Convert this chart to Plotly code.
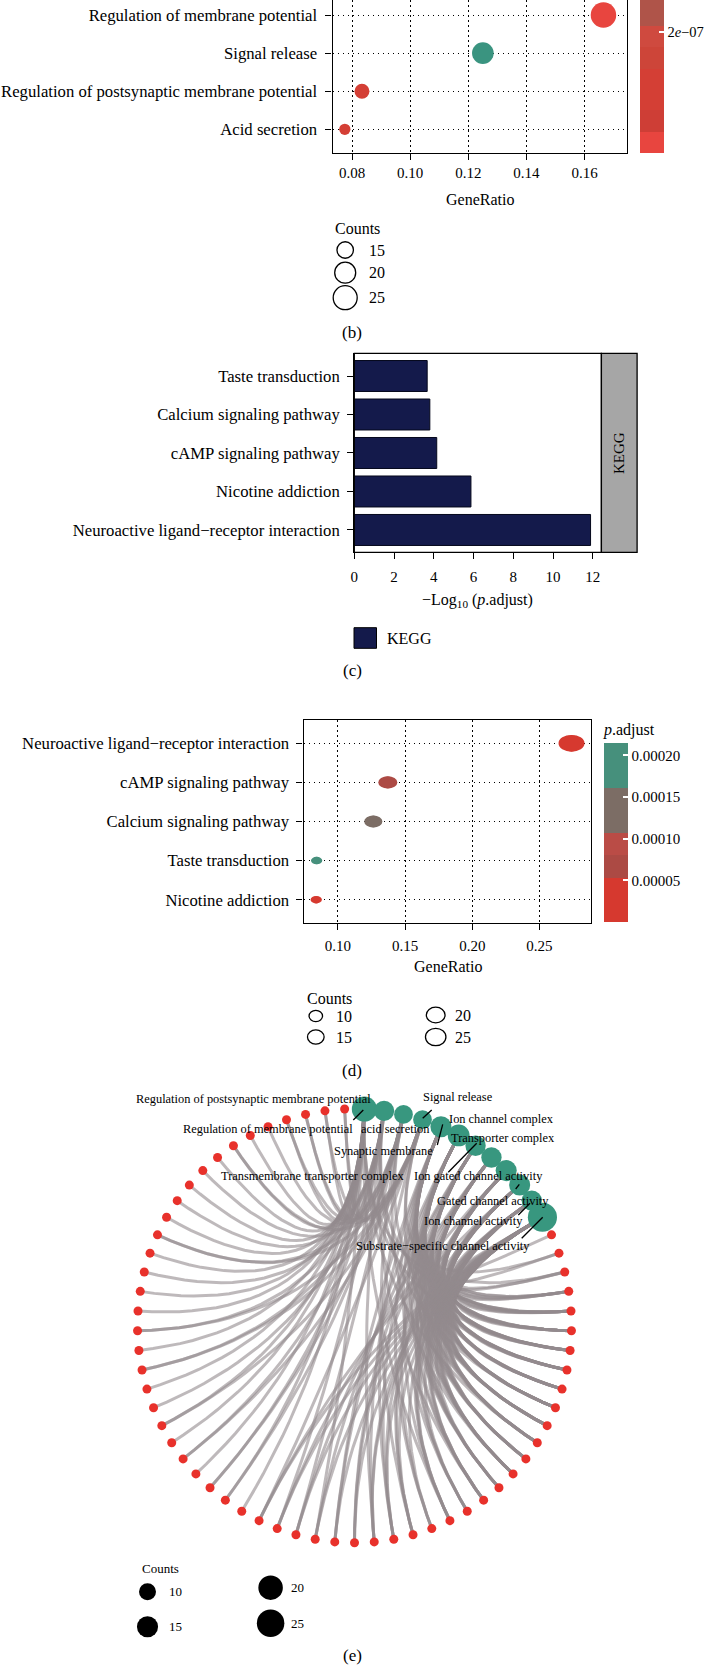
import math
import plotly.graph_objects as go
import plotly.colors as pc

W, H = 709, 1667
SERIF = "Liberation Serif"


def fx(x):
    return x / W


def fy(y):
    return 1 - y / H


# ================= DATA =================
# (b) GO dot plot (lower rows visible)
b_terms = ["Acid secretion", "Regulation of postsynaptic membrane potential",
           "Signal release", "Regulation of membrane potential"]
b_gene_ratio = [0.0775, 0.0834, 0.1250, 0.1665]
b_counts = [13, 14, 21, 28]
b_padjust = [1.0e-7, 1.05e-7, 7.0e-7, 1.0e-12]
b_x_ticks = [0.08, 0.10, 0.12, 0.14, 0.16]
b_size_breaks = [15, 20, 25]
b_cbar_ticks = [2e-7]
b_cbar_ticktext = ["2<i>e</i>\u221207"]

# (c) KEGG bar chart (bottom to top)
kegg_terms = ["Neuroactive ligand\u2212receptor interaction", "Nicotine addiction",
              "cAMP signaling pathway", "Calcium signaling pathway", "Taste transduction"]
kegg_padjust = [1.29e-12, 1.35e-6, 7.1e-5, 1.58e-4, 2.15e-4]
c_x_ticks = [0, 2, 4, 6, 8, 10, 12]

# (d) KEGG dot plot (bottom to top)
d_terms = ["Nicotine addiction", "Taste transduction", "Calcium signaling pathway",
           "cAMP signaling pathway", "Neuroactive ligand\u2212receptor interaction"]
d_gene_ratio = [0.0838, 0.0841, 0.1263, 0.1371, 0.2739]
d_counts = [8, 8, 12, 13, 26]
d_padjust = [1.35e-6, 2.15e-4, 1.58e-4, 7.1e-5, 1.29e-12]
d_x_ticks = [0.10, 0.15, 0.20, 0.25]
d_cbar_ticks = [0.00005, 0.00010, 0.00015, 0.00020]
d_size_breaks = [10, 15, 20, 25]

# (e) gene-concept network: terms in circle order, gene indices per term
e_terms = ["Regulation of postsynaptic membrane potential", "Regulation of membrane potential",
           "acid secretion", "Signal release", "Ion channel complex", "Synaptic membrane",
           "Transporter complex", "Transmembrane transporter complex",
           "Ion gated channel activity", "Gated channel activity", "Ion channel activity",
           "Substrate\u2212specific channel activity"]
e_term_genes = [
    [2, 6, 11, 17, 24, 28, 29, 31, 33, 34, 36, 38, 40, 41, 43, 45, 47, 49, 51, 53, 55],
    [4, 9, 15, 21, 26, 30, 32, 35, 39, 42, 46, 50, 54, 56],
    [7, 13, 19, 25, 29, 30, 37, 44, 48, 52, 54, 56],
    [1, 10, 20, 27, 32, 34, 37, 39, 44, 50, 53, 55],
    [3, 4, 5, 6, 7, 8, 9, 10, 11, 12, 14, 16, 18, 21, 23],
    [3, 4, 5, 6, 7, 8, 9, 10, 11, 12, 13, 14, 15, 17, 20, 23],
    [4, 5, 6, 7, 8, 9, 10, 12, 13, 14, 15, 18, 22, 24],
    [5, 6, 7, 8, 9, 10, 11, 12, 13, 14, 16, 19, 22, 25],
    [3, 4, 5, 6, 7, 8, 9, 10, 11, 12, 13, 14, 16, 19, 26],
    [3, 4, 5, 6, 7, 8, 9, 10, 11, 12, 13, 15, 17, 20, 27],
    [2, 3, 4, 5, 6, 7, 8, 9, 10, 11, 13, 15, 17, 21],
    [0, 1, 2, 3, 4, 5, 6, 7, 8, 9, 10, 11, 12, 13, 14, 15, 16, 17, 18, 19, 20, 21, 22,
     23, 24, 25, 26, 27],
]
e_n_genes = 57
e_size_breaks = [10, 15, 20, 25]

# ================= STYLES =================
RED = "#E8312B"
TEAL = "#38977F"
NAVY = "#141A4B"
DOT = "1.5px,3.5px"
EDGE = "rgba(146,138,141,0.6)"

b_colorscale = [[0, "#E8453F"], [0.05, "#E8453F"], [0.05, "#CE3E36"], [0.101, "#CE3E36"],
                [0.101, "#D43F35"], [0.2, "#D43F35"], [0.2, "#CD4539"], [0.251, "#CD4539"],
                [0.251, "#CF4A3F"], [0.30, "#CF4A3F"], [0.30, "#AF5449"], [0.45, "#AF5449"],
                [0.45, "#8A6A60"], [0.62, "#8A6A60"], [0.62, "#6B7C6D"], [0.8, "#6B7C6D"],
                [0.8, "#3A9480"], [1, "#3A9480"]]
d_colorscale = [[0, "#D6392F"], [0.244, "#D6392F"], [0.244, "#AC4A44"], [0.373, "#AC4A44"],
                [0.373, "#BA4C46"], [0.5, "#BA4C46"], [0.5, "#7C6D65"], [0.748, "#7C6D65"],
                [0.748, "#46907C"], [1, "#46907C"]]


def scale_lookup(scale, t):
    t = min(max(t, 0.0), 1.0)
    for (a, ca), (b, cb) in zip(scale[:-1], scale[1:]):
        if b > a and a <= t <= b:
            rgb = pc.find_intermediate_color(pc.hex_to_rgb(ca), pc.hex_to_rgb(cb),
                                             (t - a) / (b - a))
            return "rgb(%d,%d,%d)" % tuple(round(v) for v in rgb)
    return scale[-1][1]


def size_b(c):
    lo, hi = min(b_counts), max(b_counts)
    return 11.3 + (25.5 - 11.3) * math.sqrt((c - lo) / (hi - lo))


def size_d(c):
    lo, hi = min(d_counts), max(d_counts)
    t = math.sqrt((c - lo) / (hi - lo))
    return 11.3 + 14.7 * t, 7.5 + 9.3 * t  # width, height (panel is stretched)


def size_e(c):
    d10, d25 = 17.0, 27.5
    return math.sqrt(d10 ** 2 + (c - 10) * (d25 ** 2 - d10 ** 2) / 15.0)


tickfont = dict(family=SERIF, size=15, color="black")
ylabfont = dict(family=SERIF, size=16.7, color="black")

fig = go.Figure()
shapes = []
annotations = []


def text(x, y, s, size=16, xanchor="left", **kw):
    annotations.append(dict(x=fx(x), y=fy(y), xref="paper", yref="paper", text=s,
                            showarrow=False, xanchor=xanchor, yanchor="middle",
                            font=dict(family=SERIF, size=size, color="black"), **kw))


def key_shape(x, y, w, h, fill, line_w):
    shapes.append(dict(type="circle", xref="paper", yref="paper", xsizemode="pixel",
                       ysizemode="pixel", xanchor=fx(x), yanchor=fy(y), x0=-w / 2, x1=w / 2,
                       y0=-h / 2, y1=h / 2, fillcolor=fill,
                       line=dict(color="black", width=line_w)))


# ================= (b) =================
fig.add_trace(go.Scatter(
    x=b_gene_ratio, y=list(range(len(b_terms))), mode="markers", xaxis="x", yaxis="y",
    marker=dict(size=[size_b(c) for c in b_counts], color=b_padjust,
                colorscale=b_colorscale, cmin=min(b_padjust), cmax=max(b_padjust),
                line=dict(width=0), opacity=1,
                colorbar=dict(x=fx(640), xanchor="left", xpad=0, y=fy(152.7),
                              yanchor="bottom", ypad=0, len=422, lenmode="pixels",
                              thickness=24, thicknessmode="pixels", outlinewidth=0,
                              tickvals=b_cbar_ticks, ticktext=b_cbar_ticktext,
                              ticks="inside", tickcolor="white", ticklen=5, tickwidth=1.5,
                              tickfont=dict(family=SERIF, size=14.5, color="black"))),
    showlegend=False, hoverinfo="x+y"))
text(480, 200, "GeneRatio", xanchor="center")
text(332.6, 228, "Counts")
for i, v in enumerate(b_size_breaks):
    yy = [250, 272.7, 297.7][i]
    d = size_b(v)
    key_shape(345.2, yy, d, d, "rgba(0,0,0,0)", 1.3)
    text(366.5, yy, str(v))
text(352, 332.3, "(b)", size=17, xanchor="center")

# ================= (c) =================
fig.add_trace(go.Bar(
    x=[-math.log10(p) for p in kegg_padjust], y=list(range(len(kegg_terms))),
    orientation="h", width=0.805, xaxis="x2", yaxis="y2",
    marker=dict(color=NAVY, line=dict(color="#05081C", width=1)), showlegend=False))
shapes.append(dict(type="rect", xref="x2 domain", yref="y2 domain", x0=0, x1=1, y0=0, y1=1,
                   line=dict(color="black", width=1.3), fillcolor="rgba(0,0,0,0)"))
shapes.append(dict(type="rect", xref="x2 domain", yref="y2 domain", x0=1,
                   x1=1 + (637.1 - 601.4) / (601.4 - 354.3), y0=0, y1=1,
                   line=dict(color="black", width=1.3), fillcolor="#A6A6A6"))
text(619.2, 452.8, "KEGG", size=15, xanchor="center", textangle=-90)
text(477.8, 600, "\u2212Log<sub>10</sub> (<i>p</i>.adjust)", xanchor="center")
shapes.append(dict(type="rect", xref="paper", yref="paper", x0=fx(354), x1=fx(376.5),
                   y0=fy(648.3), y1=fy(627.7), fillcolor=NAVY,
                   line=dict(color="black", width=1)))
text(384.6, 638, "KEGG")
text(352, 670, "(c)", size=17, xanchor="center")

# ================= (d) =================
d_cmin, d_cmax = min(d_padjust), max(d_padjust)
fig.add_trace(go.Scatter(
    x=d_gene_ratio, y=list(range(len(d_terms))), mode="markers", xaxis="x3", yaxis="y3",
    marker=dict(size=[size_d(c)[1] for c in d_counts], color=d_padjust,
                colorscale=d_colorscale, cmin=d_cmin, cmax=d_cmax, line=dict(width=0),
                colorbar=dict(x=fx(604), xanchor="left", xpad=0, y=fy(720), yanchor="top",
                              ypad=0, len=202, lenmode="pixels", thickness=23.6,
                              thicknessmode="pixels", outlinewidth=0,
                              tickvals=d_cbar_ticks, tickformat=".5f",
                              ticks="inside", tickcolor="white", ticklen=5, tickwidth=1.5,
                              tickfont=tickfont,
                              title=dict(text="<i>p</i>.adjust", side="top",
                                         font=dict(family=SERIF, size=16, color="black")))),
    showlegend=False, hoverinfo="x+y"))
for i, (xv, c, p) in enumerate(zip(d_gene_ratio, d_counts, d_padjust)):
    w, h = size_d(c)
    col = scale_lookup(d_colorscale, (p - d_cmin) / (d_cmax - d_cmin))
    shapes.append(dict(type="circle", xref="x3", yref="y3", xsizemode="pixel",
                       ysizemode="pixel", xanchor=xv, yanchor=i, x0=-w / 2, x1=w / 2,
                       y0=-h / 2, y1=h / 2, fillcolor=col, line=dict(width=0),
                       layer="above"))
text(447.5, 966, "GeneRatio", xanchor="center")
text(304.5, 998.3, "Counts")
d_key_pos = [(315.8, 1016, 334), (315.8, 1037, 334), (435.7, 1015, 452.5),
             (435.7, 1037, 452.5)]
for v, (kx, ky, lx) in zip(d_size_breaks, d_key_pos):
    w, h = size_d(v)
    hh = h + 0.8
    key_shape(kx, ky, hh * 1.18, hh, "rgba(0,0,0,0)", 1.3)
    text(lx, ky, str(v))
text(352, 1070, "(d)", size=17, xanchor="center")

# ================= (e) =================
n_nodes = len(e_terms) + e_n_genes


def node_xy(k):
    a = (k + 0.5) * 2 * math.pi / n_nodes
    return math.sin(a), math.cos(a)


term_xy = [node_xy(k) for k in range(len(e_terms))]
gene_xy = [node_xy(len(e_terms) + g) for g in range(e_n_genes)]

# one trace per edge so that overlapping semi-transparent edges darken
for t, genes in enumerate(e_term_genes):
    ax_, ay_ = term_xy[t]
    for g in genes:
        bx_, by_ = gene_xy[g]
        us = [s / 30 for s in range(31)]
        # quadratic bezier bent through the circle centre (arc edges)
        xs = [(1 - u) ** 2 * ax_ + u ** 2 * bx_ for u in us]
        ys = [(1 - u) ** 2 * ay_ + u ** 2 * by_ for u in us]
        fig.add_trace(go.Scatter(x=xs, y=ys, mode="lines", xaxis="x4", yaxis="y4",
                                 line=dict(color=EDGE, width=3.0),
                                 hoverinfo="skip", showlegend=False))

fig.add_trace(go.Scatter(x=[p[0] for p in gene_xy], y=[p[1] for p in gene_xy],
                         mode="markers", xaxis="x4", yaxis="y4",
                         marker=dict(size=9, color=RED, opacity=1, line=dict(width=0)),
                         hoverinfo="skip", showlegend=False))
fig.add_trace(go.Scatter(x=[p[0] for p in term_xy], y=[p[1] for p in term_xy],
                         mode="markers", xaxis="x4", yaxis="y4", text=e_terms,
                         marker=dict(size=[size_e(len(g)) for g in e_term_genes],
                                     color=TEAL, opacity=1, line=dict(width=0)),
                         hoverinfo="text", showlegend=False))

e_label_pos = [(133.5, 1099.3), (181, 1129.3), (358.5, 1129.3), (420.7, 1097.3),
               (446.5, 1119.3), (331.7, 1151), (448.5, 1138), (218.6, 1176),
               (411.5, 1176), (435.2, 1201.2), (421.5, 1220.5), (354.3, 1245.7)]
for name, (lx, ly) in zip(e_terms, e_label_pos):
    text(lx, ly, name, size=12.4)
leaders = [((353.3, 1120), (363.3, 1110)), ((422.7, 1118.3), (431.7, 1110)),
           ((437.3, 1145), (442.7, 1124.3)), ((448.3, 1172.3), (476.7, 1143.3)),
           ((515.7, 1189), (519.3, 1184.3)), ((518.3, 1215), (530, 1203.3)),
           ((521.7, 1238.3), (542.7, 1217.3))]
for (x0, y0), (x1, y1) in leaders:
    shapes.append(dict(type="line", xref="paper", yref="paper", x0=fx(x0), y0=fy(y0),
                       x1=fx(x1), y1=fy(y1), line=dict(color="black", width=1.3)))

text(140, 1568.3, "Counts", size=13)
e_key_pos = [(147.5, 1591.7, 166.5), (147.5, 1626.7, 166.5), (270.6, 1587.7, 288.7),
             (270.6, 1623.3, 288.7)]
for v, (kx, ky, lx) in zip(e_size_breaks, e_key_pos):
    d = size_e(v)
    key_shape(kx, ky, d, d, "black", 0)
    text(lx, ky, str(v), size=13)
text(352, 1655.5, "(e)", size=17, xanchor="center")

# ================= LAYOUT =================
dotgrid = dict(showgrid=True, gridcolor="black", gridwidth=1.2, griddash=DOT)
axline = dict(showline=True, linecolor="black", linewidth=1.3, zeroline=False,
              ticks="outside", ticklen=6, tickwidth=1.2, tickcolor="black")

cx_px, cy_px, r_px = 354.5, 1325.8, 217.0
e_left, e_right, e_top, e_bottom = 100, 610, 1080, 1570

fig.update_layout(
    width=W, height=H, margin=dict(l=0, r=0, t=0, b=0, autoexpand=False),
    paper_bgcolor="white", plot_bgcolor="white", showlegend=False,
    xaxis=dict(domain=[fx(332.6), fx(626.7)], range=[0.0733, 0.1745], tickvals=b_x_ticks,
               tickformat=".2f", tickfont=tickfont, anchor="y", mirror=False,
               ticklabelstandoff=0, **dotgrid, **axline),
    yaxis=dict(domain=[fy(153), 1], range=[-0.622, 3.394],
               tickvals=list(range(len(b_terms))), ticktext=b_terms, tickfont=ylabfont,
               anchor="x", mirror=True, ticklabelstandoff=5, **dotgrid, **axline),
    xaxis2=dict(domain=[fx(354.3), fx(601.4)], range=[0, 12.435], tickvals=c_x_ticks,
                tickfont=tickfont, anchor="y2", showgrid=False, ticklabelstandoff=5,
                **axline),
    yaxis2=dict(domain=[fy(552.3), fy(353.3)], range=[-0.58, 4.59],
                tickvals=list(range(len(kegg_terms))), ticktext=kegg_terms,
                tickfont=ylabfont, anchor="x2", showgrid=False, ticklabelstandoff=4,
                **axline),
    xaxis3=dict(domain=[fx(303.6), fx(591.4)], range=[0.0744, 0.2887], tickvals=d_x_ticks,
                tickformat=".2f", tickfont=tickfont, anchor="y3", mirror=True,
                ticklabelstandoff=3, **dotgrid, **axline),
    yaxis3=dict(domain=[fy(923.3), fy(720)], range=[-0.604, 4.596],
                tickvals=list(range(len(d_terms))), ticktext=d_terms, tickfont=ylabfont,
                anchor="x3", mirror=True, ticklabelstandoff=4, **dotgrid, **axline),
    xaxis4=dict(domain=[fx(e_left), fx(e_right)],
                range=[(e_left - cx_px) / r_px, (e_right - cx_px) / r_px],
                visible=False, anchor="y4"),
    yaxis4=dict(domain=[fy(e_bottom), fy(e_top)],
                range=[-(e_bottom - cy_px) / r_px, (cy_px - e_top) / r_px],
                visible=False, anchor="x4"),
    shapes=shapes, annotations=annotations,
)

fig.write_html("out.html", config={"displayModeBar": False},
               post_script="document.body.style.margin='0';")
